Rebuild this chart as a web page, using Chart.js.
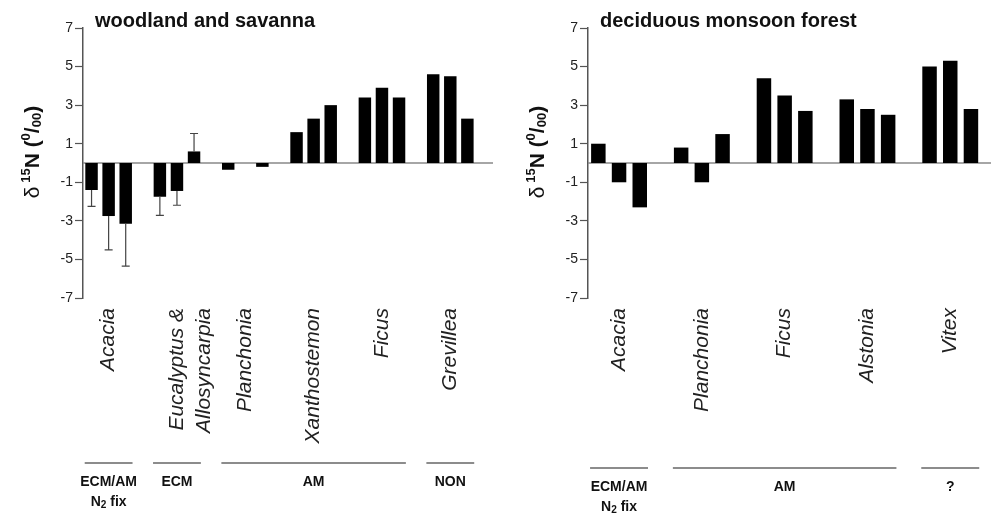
<!DOCTYPE html>
<html>
<head>
<meta charset="utf-8">
<script src="https://cdn.jsdelivr.net/npm/chart.js@4.4.0/dist/chart.umd.min.js"></script>
<style>
html, body { margin: 0; padding: 0; background: #fff; overflow: hidden; width: 991px; height: 514px; }
canvas { position: absolute; top: 0; }
#wood { left: 0; }
#monsoon { left: 495px; }
</style>
</head>
<body>
<canvas id="wood" width="495" height="514"></canvas>
<canvas id="monsoon" width="520" height="514"></canvas>
<script>
// y axis ticks shared by both panels
const yTicks = [-7, -5, -3, -1, 1, 3, 5, 7];

// woodland and savanna
const woodLabels = ['', 'Acacia', '', '', '', ['Eucalyptus &', 'Allosyncarpia'], '', '', '', 'Planchonia', '', '', '',
    'Xanthostemon', '', '', '', 'Ficus', '', '', '', 'Grevillea', '', ''];
const woodValues = [-1.4, -2.75, -3.15, null, -1.75, -1.45, 0.6, null, -0.35, null, -0.2, null,
    1.6, 2.3, 3.0, null, 3.4, 3.9, 3.4, null, 4.6, 4.5, 2.3, null];
const woodErrors = [0.85, 1.75, 2.2, null, 0.97, 0.74, 0.93, null, null, null, null, null,
    null, null, null, null, null, null, null, null, null, null, null, null];
const woodGroups = [['ECM/AM', 'N_2 fix'], ['ECM'], ['AM'], ['NON']];
const woodGroupStart = [0, 4, 8, 20];
const woodGroupEnd = [2, 6, 18, 22];

// deciduous monsoon forest
const monsoonLabels = ['', 'Acacia', '', '', '', 'Planchonia', '', '', '', 'Ficus', '', '', '',
    'Alstonia', '', '', '', 'Vitex', '', ''];
const monsoonValues = [1.0, -1.0, -2.3, null, 0.8, -1.0, 1.5, null, 4.4, 3.5, 2.7, null,
    3.3, 2.8, 2.5, null, 5.0, 5.3, 2.8, null];
const monsoonGroups = [['ECM/AM', 'N_2 fix'], ['AM'], ['?']];
const monsoonGroupStart = [0, 4, 16];
const monsoonGroupEnd = [2, 14, 18];

const FONT = "'Liberation Sans', Arial, Helvetica, sans-serif";
Chart.defaults.font.family = FONT;
Chart.defaults.color = '#222';

// draws a run of text pieces [text, size, dy, weight] one after the other
function drawRich(ctx, parts, x, y, align) {
    let total = 0;
    parts.forEach(p => {
        ctx.font = (p[3] || 'bold') + ' ' + p[1] + 'px ' + FONT;
        total += ctx.measureText(p[0]).width;
    });
    let cx = align === 'center' ? x - total / 2 : x;
    ctx.textAlign = 'left';
    parts.forEach(p => {
        ctx.font = (p[3] || 'bold') + ' ' + p[1] + 'px ' + FONT;
        ctx.fillText(p[0], cx, y + p[2]);
        cx += ctx.measureText(p[0]).width;
    });
}

function lineParts(str, size) {
    // "N_2 fix" -> N, subscript 2, " fix"
    const m = str.match(/^(.*)_(\d)(.*)$/);
    if (!m) return [[str, size, 0]];
    return [[m[1], size, 0], [m[2], size * 0.72, 3], [m[3], size, 0]];
}

const yTitle = [['δ', 21, 0, 'normal'], [' 15', 13, -7], ['N', 21, 0], [' (', 21, 0],
    ['0', 13, -7], ['/', 21, 0], ['00', 13, 4], [')', 21, 0]];

function buildPanel(canvasId, cfg) {
    const canvas = document.getElementById(canvasId);

    const panelPlugin = {
        id: 'panel',
        beforeDatasetsDraw(chart) {
            const { ctx, chartArea } = chart;
            const y0 = chart.scales.y.getPixelForValue(0);
            ctx.save();
            ctx.strokeStyle = '#888';
            ctx.lineWidth = 1.5;
            ctx.beginPath();
            ctx.moveTo(chartArea.left, y0);
            ctx.lineTo(chartArea.right, y0);
            ctx.stroke();
            ctx.restore();
        },
        afterDatasetsDraw(chart) {
            if (!cfg.errors) return;
            const meta = chart.getDatasetMeta(0);
            const ys = chart.scales.y;
            const ctx = chart.ctx;
            ctx.save();
            ctx.strokeStyle = '#444';
            ctx.lineWidth = 1.2;
            cfg.errors.forEach((e, i) => {
                if (e == null) return;
                const v = cfg.values[i];
                const bar = meta.data[i];
                const end = ys.getPixelForValue(v + Math.sign(v) * e);
                ctx.beginPath();
                ctx.moveTo(bar.x, bar.y);
                ctx.lineTo(bar.x, end);
                ctx.moveTo(bar.x - 4, end);
                ctx.lineTo(bar.x + 4, end);
                ctx.stroke();
            });
            ctx.restore();
        },
        afterDraw(chart) {
            const { ctx, chartArea } = chart;
            const xs = chart.scales.x;
            ctx.save();
            ctx.fillStyle = '#111';

            // panel title
            ctx.font = 'bold 20px ' + FONT;
            ctx.textAlign = 'left';
            ctx.textBaseline = 'alphabetic';
            ctx.fillText(cfg.title, chartArea.left + 12, chartArea.top - 1);

            // y axis title, rotated
            ctx.save();
            ctx.translate(chartArea.left - 50, (chartArea.top + chartArea.bottom) / 2 - 11);
            ctx.rotate(-Math.PI / 2);
            ctx.textBaseline = 'middle';
            drawRich(ctx, yTitle, 0, 0, 'center');
            ctx.restore();

            // group brackets under the species names
            const slot = xs.getPixelForValue(1) - xs.getPixelForValue(0);
            const ly = chartArea.bottom + cfg.bracketOffset;
            ctx.strokeStyle = '#666';
            ctx.lineWidth = 1.5;
            ctx.textBaseline = 'middle';
            cfg.groups.forEach((g, k) => {
                const x0 = xs.getPixelForValue(cfg.groupStart[k]) - slot * 0.4;
                const x1 = xs.getPixelForValue(cfg.groupEnd[k]) + slot * 0.4;
                ctx.beginPath();
                ctx.moveTo(x0, ly);
                ctx.lineTo(x1, ly);
                ctx.stroke();
                g.forEach((txt, j) => {
                    drawRich(ctx, lineParts(txt, 14), (x0 + x1) / 2, ly + 19 + j * 20, 'center');
                });
            });
            ctx.restore();
        }
    };

    return new Chart(canvas, {
        type: 'bar',
        data: {
            labels: cfg.labels,
            datasets: [{
                data: cfg.values,
                backgroundColor: '#000',
                borderWidth: 0,
                barPercentage: cfg.barPct,
                categoryPercentage: 1
            }]
        },
        plugins: [panelPlugin],
        options: {
            responsive: false,
            animation: false,
            layout: { padding: { top: 28, right: cfg.padRight, left: 0, bottom: 0 } },
            plugins: { legend: { display: false }, tooltip: { enabled: false } },
            scales: {
                x: {
                    afterFit: s => {
                        s.height = cfg.axisHeight;
                        // empty end labels should not eat plot width
                        s.paddingLeft = 0;
                        s.paddingRight = 0;
                    },
                    grid: { display: false, drawTicks: false },
                    border: { display: false },
                    ticks: {
                        autoSkip: false, minRotation: 90, maxRotation: 90, padding: 10,
                        color: '#222',
                        font: { size: 21, style: 'italic', lineHeight: 1.3 }
                    }
                },
                y: {
                    min: -7, max: 7,
                    afterBuildTicks: s => { s.ticks = yTicks.map(v => ({ value: v })); },
                    afterFit: s => { s.width = cfg.axisWidth; },
                    border: { display: true, color: '#555', width: 1.5 },
                    grid: { drawOnChartArea: false, drawTicks: true, tickLength: 8, tickColor: '#555', tickWidth: 1.2 },
                    ticks: { color: '#222', font: { size: 14 }, padding: 2 }
                }
            }
        }
    });
}

buildPanel('wood', {
    title: 'woodland and savanna',
    labels: woodLabels, values: woodValues, errors: woodErrors,
    groups: woodGroups, groupStart: woodGroupStart, groupEnd: woodGroupEnd,
    axisWidth: 83, axisHeight: 216, padRight: 2, barPct: 0.73, bracketOffset: 165
});

buildPanel('monsoon', {
    title: 'deciduous monsoon forest',
    labels: monsoonLabels, values: monsoonValues, errors: null,
    groups: monsoonGroups, groupStart: monsoonGroupStart, groupEnd: monsoonGroupEnd,
    axisWidth: 93, axisHeight: 216, padRight: 13, barPct: 0.7, bracketOffset: 170
});
</script>
</body>
</html>
